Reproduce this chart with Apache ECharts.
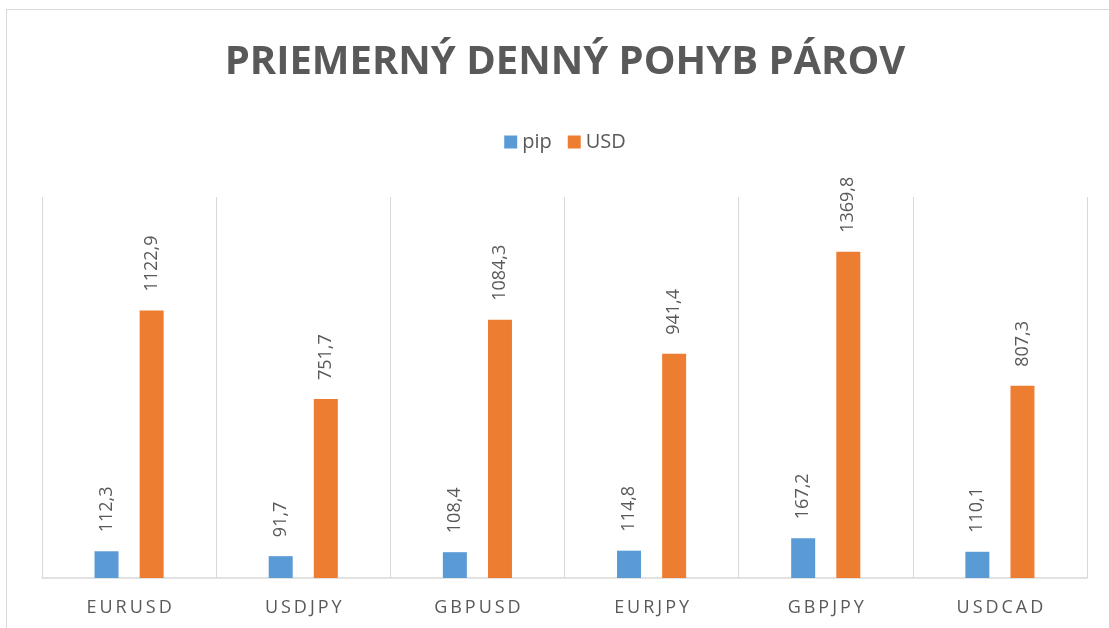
<!DOCTYPE html>
<html>
<head>
<meta charset="utf-8">
<script src="https://cdn.jsdelivr.net/npm/echarts@6/dist/echarts.min.js"></script>
<style>
  html, body { margin: 0; padding: 0; background: #fff; overflow: hidden; }
  #chart { position: absolute; left: 0; top: 0; width: 1130px; height: 628px; }
  #frame { position: absolute; left: 6px; top: 9px; width: 1120px; height: 640px;
           border: 1px solid #d9d9d9; pointer-events: none; }
</style>
</head>
<body>
<div id="chart"></div>
<div id="frame"></div>
<script>
// hodnoty odčítané z grafu
const pairs = ['EURUSD', 'USDJPY', 'GBPUSD', 'EURJPY', 'GBPJPY', 'USDCAD']
const pipValues = [112.3, 91.7, 108.4, 114.8, 167.2, 110.1]
const usdValues = [1122.9, 751.7, 1084.3, 941.4, 1369.8, 807.3]

const textColor = '#595959'
const lineColor = '#d9d9d9'

// graf je o niečo širší ako okno, aby nadpis a legenda sedeli na stred ako v Exceli
const chart = echarts.init(document.getElementById('chart'))

// desatinná čiarka ako v Exceli
const fmt = (p) => p.value.toFixed(1).replace('.', ',')

const labelStyle = {
  show: true,
  position: 'top',
  rotate: 90,
  align: 'left',
  verticalAlign: 'middle',
  distance: 19,
  color: textColor,
  fontSize: 18,
  fontFamily: 'Open Sans',
  formatter: fmt,
}

chart.setOption({
  animation: false,
  title: {
    text: 'PRIEMERNÝ DENNÝ POHYB PÁROV',
    left: 'center',
    top: 38,
    textStyle: {
      color: textColor,
      fontSize: 40,
      fontWeight: 'bold',
      fontFamily: 'Open Sans',
    },
  },
  legend: {
    data: ['pip', 'USD'],
    top: 127,
    left: 'center',
    icon: 'rect',
    itemWidth: 13,
    itemHeight: 13,
    itemGap: 16,
    textStyle: { color: textColor, fontSize: 20, fontFamily: 'Open Sans' },
  },
  grid: { left: 42, right: 43, top: 197, bottom: 50 },
  xAxis: {
    type: 'category',
    data: pairs,
    axisLine: { lineStyle: { color: lineColor, width: 1.5 } },
    axisTick: { show: false },
    splitLine: { show: true, lineStyle: { color: lineColor, width: 1 } },
    axisLabel: {
      color: textColor,
      fontSize: 18,
      fontFamily: 'Open Sans',
      margin: 21,
      // rozostup písmen ako v pôvodnom grafe
      formatter: (v) => v.split('').join('\u2009'),
    },
  },
  yAxis: {
    type: 'value',
    min: 0,
    max: 1600,
    show: false,
    splitLine: { show: false },
  },
  series: [
    {
      name: 'pip',
      type: 'bar',
      data: pipValues,
      barWidth: 24,
      barGap: '88%',
      itemStyle: { color: '#5B9BD5' },
      label: labelStyle,
    },
    {
      name: 'USD',
      type: 'bar',
      data: usdValues,
      barWidth: 24,
      itemStyle: { color: '#ED7D31' },
      label: labelStyle,
    },
  ],
})

window.addEventListener('resize', () => chart.resize())
</script>
</body>
</html>
